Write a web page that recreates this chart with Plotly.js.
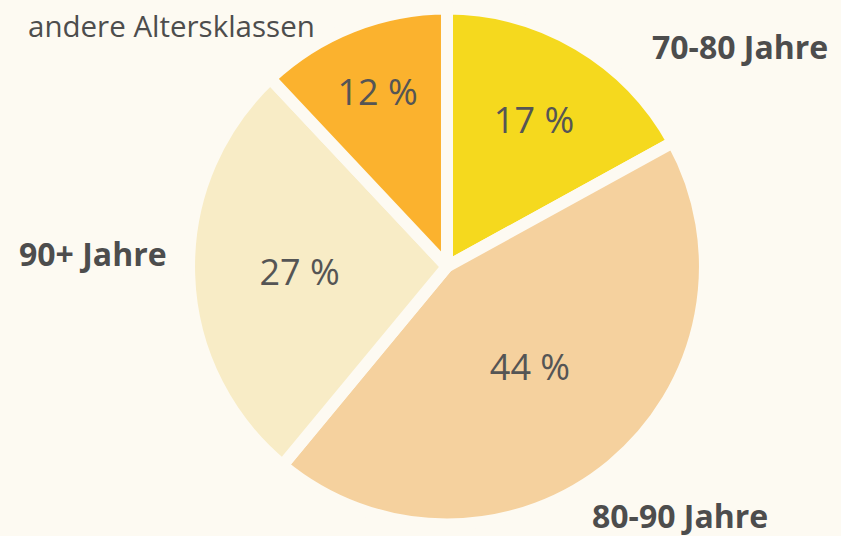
<!DOCTYPE html>
<html>
<head>
<meta charset="utf-8">
<script src="https://cdn.plot.ly/plotly-3.0.1.min.js"></script>
<style>html,body{margin:0;padding:0;background:#FDFAF2;}</style>
</head>
<body>
<div id="chart" style="width:841px;height:536px;"></div>
<script>
const categories = ["70-80 Jahre", "80-90 Jahre", "90+ Jahre", "andere Altersklassen"];
const values = [17, 44, 27, 12];
const colors = ["#F5D91E", "#F5D19E", "#F8ECC6", "#FBB22E"];
const labelBold = [true, true, true, false];
const labelPos = [[0.880, 0.913], [0.808, 0.038], [0.111, 0.527], [0.2045, 0.953]];

const bg = "#FDFAF2";
const trace = {
  type: "pie",
  labels: categories,
  values: values,
  sort: false,
  direction: "clockwise",
  rotation: 0,
  marker: {colors: colors, line: {color: bg, width: 12}},
  texttemplate: "%{value} %",
  textposition: "inside",
  insidetextorientation: "horizontal",
  textfont: {family: "Open Sans", size: 36, color: "#555555"},
  hoverinfo: "none",
  domain: {x: [0.2247, 0.8383], y: [0.0215, 0.984]},
  showlegend: false
};

const annotations = categories.map((c, i) => ({
  text: labelBold[i] ? "<b>" + c + "</b>" : c,
  x: labelPos[i][0], y: labelPos[i][1],
  xref: "paper", yref: "paper",
  xanchor: "center", yanchor: "middle",
  showarrow: false,
  font: labelBold[i]
    ? {family: "Open Sans", size: 32, color: "#4D4D4D"}
    : {family: "Open Sans", size: 29.5, color: "#4D4D4D"}
}));

const layout = {
  width: 841, height: 536,
  margin: {l: 0, r: 0, t: 0, b: 0},
  paper_bgcolor: bg, plot_bgcolor: bg,
  annotations: annotations
};
Plotly.newPlot("chart", [trace], layout, {displayModeBar: false, staticPlot: true});
</script>
</body>
</html>
